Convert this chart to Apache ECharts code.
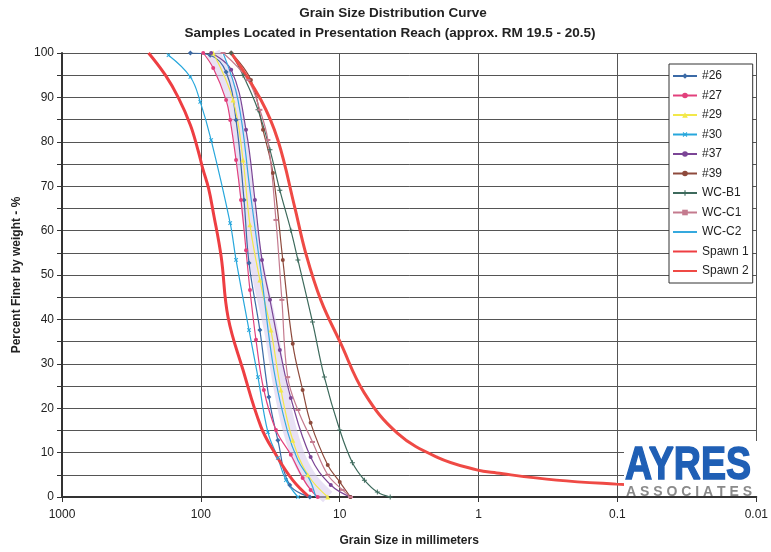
<!DOCTYPE html>
<html>
<head>
<meta charset="utf-8">
<script src="https://cdn.jsdelivr.net/npm/echarts@6/dist/echarts.min.js"></script>
<style>
  html, body { margin: 0; padding: 0; background: #fff; }
  #chart { width: 771px; height: 552px; }
</style>
</head>
<body>
<div id="chart"></div>
<script>
// grain size (mm), percent finer
var s26 = [[119,100],[85.7,99.5],[65.8,95.7],[55.8,84.9],[48.9,66.9],[45,52.7],[37.6,37.6],[32.4,22.5],[27.9,12.8],[22.9,2.7],[16.4,0]];
var s27 = [[96.2,100],[81.5,96.6],[65.8,89.4],[61.5,84.9],[55.8,75.9],[51.4,66.9],[47.3,55.6],[44.3,46.6],[40.1,35.4],[35.2,24.1],[28.8,15.1],[22.5,9.5],[18.5,4.3],[16.2,1.6],[14.4,0]];
var s29 = [[81.5,100],[58.6,89.4],[49.7,75.9],[44.3,61.3],[37.6,48.9],[31.3,37.6],[26.5,24.1],[21.8,12.8],[17,5],[12.2,0]];
var s30 = [[171,99.5],[119,94.6],[101,89],[84.3,80.4],[61.5,61.7],[55.8,53.4],[45,37.6],[38.8,27],[32.9,14.6],[27.9,8.8],[24.4,3.8],[20,0]];
var s37 = [[84.3,100],[60.5,96.2],[47.3,82.7],[40.8,66.9],[36.3,53.4],[31.8,44.4],[27,33.1],[22.5,22.3],[16.2,9],[11.6,2.7],[8.37,0]];
var s39 = [[60.5,100],[43.6,93.9],[35.7,82.7],[30.3,73],[25.7,53.4],[21.8,34.5],[18.5,24.1],[16.2,16.7],[12.2,7.2],[10,3.4],[8.37,0]];
var wcB1 = [[60.5,100],[49.7,95],[38.8,87.2],[31.8,78.2],[27,69.1],[22.5,60.1],[20,53.4],[15.7,39.4],[12.9,27],[10,15.1],[8.1,7.7],[6.64,3.8],[5.36,1.1],[4.33,0]];
var wcC1 = [[69.2,100],[45.7,93.9],[37.6,87.2],[32.9,80.4],[28.8,62.4],[26.1,44.4],[23.7,27],[20,19.6],[15.7,12.4],[12.2,5],[9.55,1.6],[8.37,0]];
var wcC2 = [[69.2,100],[54,89.4],[44.3,69.1],[36.3,48.9],[29.8,28.6],[23.7,14.6],[20,8.3],[16.4,3.8],[14.9,0]];
var spawn1 = [[238,100],[180,95],[145,89.9],[119,83.8],[104,77.7],[97,74],[88,69.5],[81.5,64.2],[71.4,54.1],[63.7,40.5],[49.7,28.6],[36.9,15.8],[29.3,9.9],[21.8,3.8],[16.6,0]];
var spawn2 = [[60.5,100],[36.9,89.4],[27.9,80.4],[21.1,65.3],[17.6,55],[13.7,44.4],[9.87,34.7],[6.64,23.4],[3.85,14.4],[2.0,9.0],[1.03,6.1],[0.74,5.4],[0.275,3.8],[0.102,2.9],[0.027,2.0]];

var xTicks = [1000, 100, 10, 1, 0.1, 0.01];
var legendNames = ['#26', '#27', '#29', '#30', '#37', '#39', 'WC-B1', 'WC-C1', 'WC-C2', 'Spawn 1', 'Spawn 2'];
var noMarker = ['WC-C2', 'Spawn 1', 'Spawn 2'];

var plus = 'path://M4,0L6,0L6,4L10,4L10,6L6,6L6,10L4,10L4,6L0,6L0,4L4,4Z';
var font = '"Liberation Sans", Arial, sans-serif';

function line(name, data, color, symbol, size, width, rotate) {
  return {
    name: name, type: 'line', data: data, smooth: 0.4,
    symbol: symbol, symbolSize: size, symbolRotate: rotate || 0,
    showSymbol: symbol !== 'none',
    lineStyle: {color: color, width: width || 1.2},
    itemStyle: {color: color},
    emphasis: {disabled: true}
  };
}

var series = [
  // pale highlighter band under the #29 curve
  {name: 'band', type: 'line', data: s29, smooth: 0.4, symbol: 'none', silent: true, z: 1,
    lineStyle: {color: 'rgba(214,200,236,0.55)', width: 14}},
  line('#26', s26, '#3b6aa6', 'diamond', 5),
  line('#27', s27, '#e2407c', 'circle', 4),
  line('#29', s29, '#f2e84a', 'triangle', 5),
  line('#30', s30, '#27a7dc', plus, 5, 1.2, 45),
  line('#37', s37, '#7b4596', 'circle', 4),
  line('#39', s39, '#8e4a3c', 'circle', 4),
  line('WC-B1', wcB1, '#3d6a5c', plus, 5),
  line('WC-C1', wcC1, '#c47a8e', 'rect', [5, 2]),
  line('WC-C2', wcC2, '#35a9de', 'none', 0),
  line('Spawn 1', spawn1, '#ee3e42', 'none', 0, 3),
  line('Spawn 2', spawn2, '#ef4a45', 'none', 0, 3)
];

var legendData = legendNames.map(function (n) {
  if (noMarker.indexOf(n) >= 0) return {name: n, itemStyle: {color: 'rgba(0,0,0,0)', borderWidth: 0}};
  return {name: n};
});

var chart = echarts.init(document.getElementById('chart'));
chart.setOption({
  animation: false,
  backgroundColor: '#fff',
  textStyle: {fontFamily: font},
  grid: {left: 62, right: 11, top: 53, bottom: 55},
  xAxis: {
    type: 'log', logBase: 10, min: 0.01, max: 1000, inverse: true,
    name: 'Grain Size in millimeters', nameLocation: 'middle', nameGap: 38,
    nameTextStyle: {fontSize: 12, fontWeight: 'bold', color: '#222'},
    axisLine: {onZero: false, lineStyle: {color: '#333', width: 2}},
    axisTick: {show: true, length: 5, lineStyle: {color: '#333'}},
    axisLabel: {fontSize: 12, color: '#222', margin: 12,
      formatter: function (v) {
        for (var i = 0; i < xTicks.length; i++) {
          if (Math.abs(Math.log10(v) - Math.log10(xTicks[i])) < 1e-6) return String(xTicks[i]);
        }
        return '';
      }},
    splitLine: {show: true, lineStyle: {color: '#555', width: 1}},
    minorTick: {show: false}, minorSplitLine: {show: false}
  },
  yAxis: {
    type: 'value', min: 0, max: 100, interval: 10,
    name: 'Percent Finer by weight - %', nameLocation: 'middle', nameGap: 38, nameRotate: 90,
    nameTextStyle: {fontSize: 12, fontWeight: 'bold', color: '#222'},
    axisLine: {show: true, onZero: false, lineStyle: {color: '#333', width: 2}},
    axisTick: {show: true, length: 5, lineStyle: {color: '#333'}},
    minorTick: {show: true, splitNumber: 2, length: 5, lineStyle: {color: '#333'}},
    axisLabel: {fontSize: 12, color: '#222', margin: 8},
    splitLine: {show: true, lineStyle: {color: '#555', width: 1}},
    minorSplitLine: {show: true, lineStyle: {color: '#555', width: 1}}
  },
  legend: {
    data: legendData,
    orient: 'vertical', left: 669, top: 64,
    itemWidth: 24, itemHeight: 7, itemGap: 5.5,
    padding: [5, 4, 5, 3],
    backgroundColor: '#fff', borderColor: '#333', borderWidth: 1,
    textStyle: {fontSize: 12, color: '#222', fontFamily: font, lineHeight: 14},
    selectedMode: false
  },
  graphic: [
    {type: 'text', x: 393, y: 13, style: {text: 'Grain Size Distribution Curve', font: 'bold 13.5px ' + font, fill: '#222', textAlign: 'center', textVerticalAlign: 'middle'}},
    {type: 'text', x: 390, y: 33, style: {text: 'Samples Located in Presentation Reach (approx. RM 19.5 - 20.5)', font: 'bold 13.5px ' + font, fill: '#222', textAlign: 'center', textVerticalAlign: 'middle'}},
    {type: 'rect', shape: {x: 624, y: 441, width: 133, height: 55}, style: {fill: '#fff'}, z: 100},
    {type: 'text', x: 625, y: 466, scaleX: 0.8, z: 101, style: {text: 'AYRES', font: 'bold 47px ' + font, fill: '#1f5fb5', stroke: '#1f5fb5', lineWidth: 1.5, textVerticalAlign: 'middle'}},
    {type: 'text', x: 626, y: 492, z: 101, style: {text: 'A S S O C I A T E S', font: 'bold 14px ' + font, fill: '#8a8a8a', textVerticalAlign: 'middle'}}
  ],
  series: series
});
</script>
</body>
</html>
